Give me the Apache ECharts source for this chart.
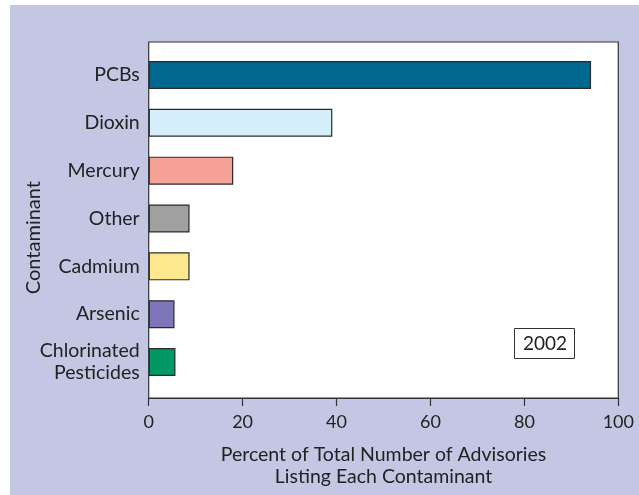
<!DOCTYPE html>
<html>
<head>
<meta charset="utf-8">
<script src="https://cdn.jsdelivr.net/npm/echarts@6/dist/echarts.min.js"></script>
<style>
html,body{margin:0;padding:0;background:#fff;}
#bg{position:absolute;left:10px;top:5px;width:629px;height:490px;background:#c4c7e3;}
#chart{position:absolute;left:0;top:0;width:639px;height:495px;}
</style>
</head>
<body>
<div id="bg"></div>
<div id="chart"></div>
<script>
const categories = ['PCBs', 'Dioxin', 'Mercury', 'Other', 'Cadmium', 'Arsenic', 'Chlorinated\nPesticides'];
const values = [94.2, 39.1, 18.0, 8.7, 8.7, 5.5, 5.7];
const barColors = ['#00678e', '#d4eefa', '#f5a198', '#a0a0a0', '#fde88e', '#7e76b8', '#009966'];
const xTicks = [0, 20, 40, 60, 80, 100];
const yearLabel = '2002';
const xTitle = 'Percent of Total Number of Advisories\nListing Each Contaminant';
const yTitle = 'Contaminant';

const FONT = 'Lato, "Open Sans", sans-serif';
const chart = echarts.init(document.getElementById('chart'), null, {renderer: 'canvas'});
const L = 148.7, R = 639 - 618.3;
chart.setOption({
  animation: false,
  backgroundColor: 'transparent',
  textStyle: {fontFamily: FONT},
  title: {
    text: yearLabel,
    left: 514, top: 328,
    padding: [6, 8, 6, 9],
    borderColor: '#333', borderWidth: 1,
    backgroundColor: '#fff',
    textStyle: {fontSize: 19, fontWeight: 'normal', color: '#222', fontFamily: FONT}
  },
  graphic: [{
    type: 'text',
    left: 24, top: 181,
    rotation: Math.PI / 2,
    style: {text: yTitle, fontSize: 20, fill: '#222', fontFamily: FONT}
  }],
  grid: [
    {left: L, right: R, top: 42, bottom: 97, show: true, backgroundColor: '#fff', borderColor: '#333', borderWidth: 1.2, z: 0},
    {left: L, right: R, top: 51, bottom: 109}
  ],
  xAxis: [
    {
      gridIndex: 0, type: 'value', min: xTicks[0], max: xTicks[xTicks.length - 1], interval: 20,
      axisLine: {show: true, lineStyle: {color: '#333', width: 1.2}},
      axisTick: {show: true, inside: false, length: 8, lineStyle: {color: '#333', width: 1.2}},
      splitLine: {show: false},
      axisLabel: {fontSize: 18, color: '#222', margin: 15, fontFamily: FONT},
      name: xTitle, nameLocation: 'middle', nameGap: 46,
      nameTextStyle: {fontSize: 19.5, color: '#222', lineHeight: 22, fontFamily: FONT, align: 'center'}
    },
    {gridIndex: 1, type: 'value', min: 0, max: 100, show: false}
  ],
  yAxis: [
    {gridIndex: 0, type: 'value', show: false},
    {
      gridIndex: 1, type: 'category', data: categories, inverse: true,
      axisLine: {show: false}, axisTick: {show: false},
      axisLabel: {fontSize: 19.5, color: '#222', margin: 9, lineHeight: 22, align: 'right', fontFamily: FONT}
    }
  ],
  series: [{
    type: 'bar', xAxisIndex: 1, yAxisIndex: 1, barWidth: 28,
    data: values.map((v, i) => ({value: v, itemStyle: {color: barColors[i]}})),
    itemStyle: {borderColor: '#2a2a2a', borderWidth: 1.2}
  }]
});
</script>
</body>
</html>
